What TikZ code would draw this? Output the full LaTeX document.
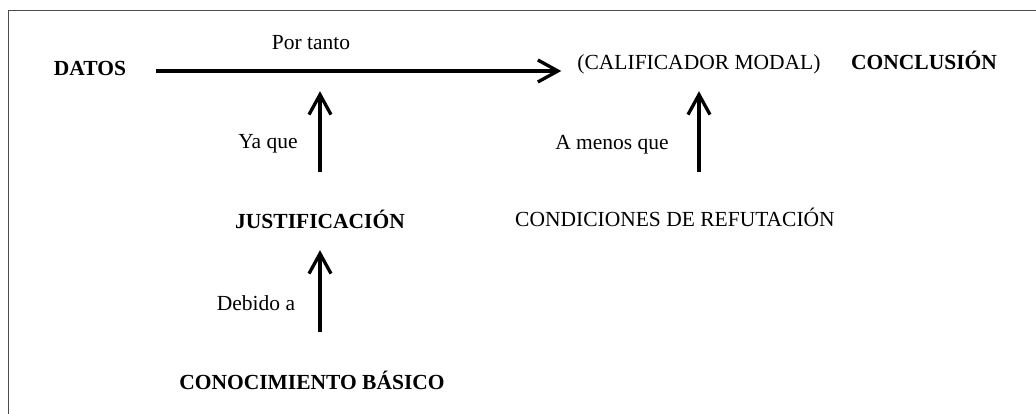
\documentclass[tikz,border=0pt]{standalone}
\usepackage{fontspec}
\setmainfont{Liberation Serif}
\usetikzlibrary{arrows.meta}

\begin{document}
\begin{tikzpicture}[x=1pt,y=-1pt,
  txt/.style={anchor=base,inner sep=0pt,text height=15pt,text depth=5pt,
              font=\fontsize{21.5}{24}\selectfont},
  negr/.style={txt,font=\fontsize{21.5}{24}\selectfont\bfseries},
  flecha/.style={line width=3.3pt,-{Straight Barb[length=20pt,width=22pt]}}]
\useasboundingbox (0,0) rectangle (1036,414);
% marco
\draw[black!70,line width=1pt] (8,414) -- (8,11) -- (1036,11);
% elementos
\node[negr] (datos)  at (90,76)   {DATOS};
\node[txt]  (calif)  at (699,70)  {(CALIFICADOR MODAL)};
\node[negr] (concl)  at (924,70)  {CONCLUSIÓN};
\node[negr] (justif) at (320,229) {JUSTIFICACIÓN};
\node[txt]  (refut)  at (675,226) {CONDICIONES DE REFUTACIÓN};
\node[negr] (conoc)  at (312,389) {CONOCIMIENTO BÁSICO};
% etiquetas
\node[txt] (portanto) at (311,50)  {Por tanto};
\node[txt] (yaque)    at (268,149) {Ya que};
\node[txt] (amenos)   at (612,150) {A menos que};
\node[txt] (debido)   at (256,310) {Debido a};
% flechas
\draw[flecha,shorten <=30pt,shorten >=16pt] (datos.east) -- (datos.east -| calif.west);
\draw[flecha,shorten <=42pt,shorten >=10pt] (justif.north) -- (justif.north |- datos.south);
\draw[flecha,shorten <=42pt,shorten >=16pt] (justif.south |- conoc.north) -- (justif.south);
\draw[flecha,shorten <=39pt,shorten >=16pt] (calif.south |- refut.north) -- (calif.south);
\end{tikzpicture}
\end{document}
